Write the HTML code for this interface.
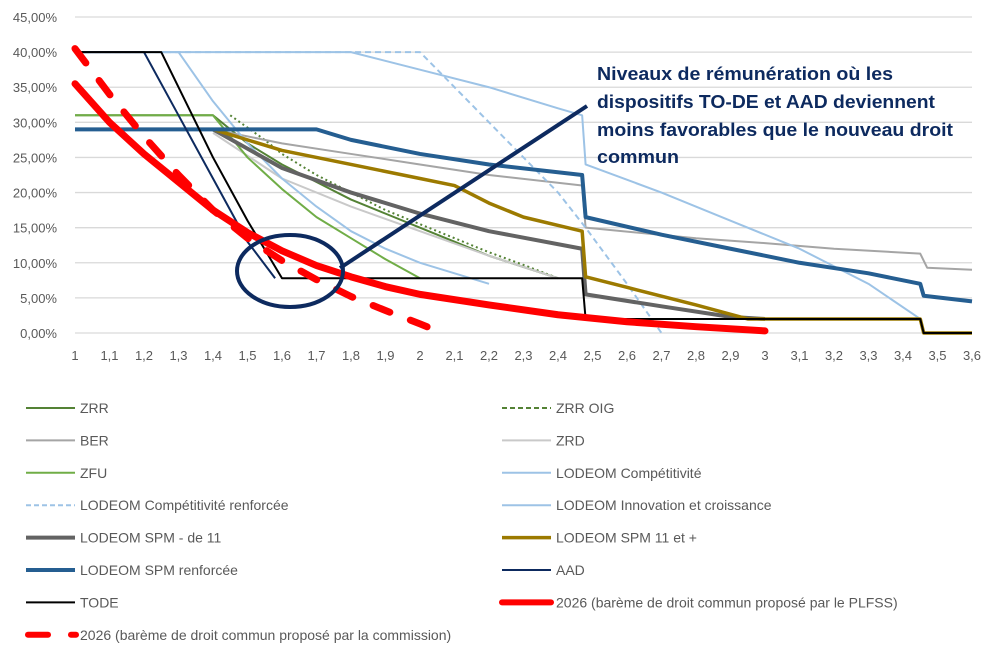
<!DOCTYPE html>
<html><head><meta charset="utf-8"><style>
body{margin:0;background:#fff;}
svg text{font-family:"Liberation Sans",sans-serif;}
</style></head><body>
<svg id="chart" width="995" height="650" xmlns="http://www.w3.org/2000/svg">
<g id="grid"></g>
<g id="yaxis"></g>
<g id="xaxis"></g>
<g id="series"></g>
<g id="legend"></g>
<ellipse cx="290" cy="271" rx="53" ry="36" fill="none" stroke="#0d2a5f" stroke-width="4"/>
<line x1="340" y1="268" x2="587" y2="106" stroke="#0d2a5f" stroke-width="4"/>
<g fill="#0d2a5f" font-weight="bold" font-size="18">
<text x="597" y="80" textLength="296" lengthAdjust="spacingAndGlyphs">Niveaux de rémunération où les</text>
<text x="597" y="108" textLength="338" lengthAdjust="spacingAndGlyphs">dispositifs TO-DE et AAD deviennent</text>
<text x="597" y="136" textLength="356" lengthAdjust="spacingAndGlyphs">moins favorables que le nouveau droit</text>
<text x="597" y="163" textLength="82" lengthAdjust="spacingAndGlyphs">commun</text>
</g>
</svg>
<script>
const yTicks=[0,5,10,15,20,25,30,35,40,45];
const xTicks=[1,1.1,1.2,1.3,1.4,1.5,1.6,1.7,1.8,1.9,2,2.1,2.2,2.3,2.4,2.5,2.6,2.7,2.8,2.9,3,3.1,3.2,3.3,3.4,3.5,3.6];
const sZRR=[[1,31],[1.4,31],[1.5,27],[1.6,24],[1.7,21.5],[1.8,19],[1.9,17],[2,15],[2.1,13],[2.2,11],[2.3,9.4],[2.4,7.8]];
const sZRROIG=[[1.45,31],[1.55,27.5],[1.6,25.5],[1.7,22.5],[1.8,20],[1.9,17.5],[2,15.5],[2.1,13.5],[2.2,11.5],[2.3,9.7],[2.4,7.8]];
const sBER=[[1.4,29],[1.6,27],[1.8,25.5],[2,24],[2.2,22.5],[2.47,21],[2.48,15],[2.8,13.5],[3,12.8],[3.2,12],[3.45,11.3],[3.47,9.3],[3.6,9]];
const sZRD=[[1.4,28.5],[1.6,22],[1.8,18],[2,14.5],[2.2,11],[2.4,7.8]];
const sZFU=[[1,31],[1.4,31],[1.5,25],[1.6,20.5],[1.7,16.5],[1.8,13.5],[1.9,10.5],[2,7.8]];
const sComp=[[1,40],[1.3,40],[1.4,33],[1.5,27],[1.6,22],[1.7,18],[1.8,14.5],[1.9,12],[2,10],[2.1,8.5],[2.2,7]];
const sCompR=[[1,40],[2,40],[2.2,30],[2.4,20],[2.48,15],[2.6,7],[2.7,0]];
const sInno=[[1,40],[1.8,40],[2,37.5],[2.2,35],[2.4,32],[2.47,31],[2.48,24],[2.7,20],[2.9,16],[3.1,12],[3.3,7],[3.45,2],[3.46,0]];
const sSPM11m=[[1.4,29],[1.6,23.5],[1.8,20],[2,17],[2.2,14.5],[2.47,12],[2.48,5.5],[2.7,3.8],[2.9,2.3],[3,2]];
const sSPM11p=[[1.4,29],[1.6,26],[1.8,24],[2,22],[2.1,21],[2.2,18.5],[2.3,16.5],[2.47,14.5],[2.48,8],[2.6,6.5],[2.8,4],[2.95,2],[3.45,2],[3.46,0],[3.6,0]];
const sSPMR=[[1,29],[1.7,29],[1.8,27.5],[2,25.5],[2.2,24],[2.47,22.5],[2.48,16.5],[2.7,14],[2.9,12],[3.1,10],[3.3,8.5],[3.45,7],[3.46,5.3],[3.6,4.5]];
const sAAD=[[1,40],[1.2,40],[1.3,31],[1.4,22],[1.5,13],[1.58,7.8]];
const sTODE=[[1,40],[1.25,40],[1.3,35],[1.4,25],[1.5,16],[1.6,7.8],[2.47,7.8],[2.48,2],[3.45,2],[3.46,0],[3.6,0]];
const sPLFSS=[[1,35.5],[1.1,30],[1.2,25.5],[1.3,21.5],[1.4,17.5],[1.5,14.3],[1.6,11.7],[1.7,9.6],[1.8,8],[1.9,6.6],[2,5.5],[2.2,4],[2.4,2.6],[2.6,1.6],[2.8,0.9],[3,0.3]];
const sComm=[[1,40.5],[1.1,34],[1.2,28],[1.3,22.5],[1.4,17.5],[1.5,13.5],[1.6,10.3],[1.7,7.6],[1.8,5.2],[1.9,3.2],[2,1.3],[2.05,0.3]];
const X=s=>75+(s-1)*345, Y=v=>333-v*316/45;
const NS="http://www.w3.org/2000/svg";
function mk(p,t,a){const e=document.createElementNS(NS,t);for(const k in a)e.setAttribute(k,a[k]);p.appendChild(e);return e;}
const grid=document.getElementById('grid'),ya=document.getElementById('yaxis'),xa=document.getElementById('xaxis');
yTicks.forEach(v=>{const l=mk(grid,'line',{x1:75,x2:972,y1:Y(v),y2:Y(v),stroke:'#d9d9d9','stroke-width':1.3});


const t=mk(ya,'text',{x:57,y:Y(v)+5,'text-anchor':'end','font-size':13,fill:'#595959'});t.textContent=v.toFixed(2).replace('.',',')+'%';

});
xTicks.forEach(v=>{const t=mk(xa,'text',{x:X(v),y:360,'text-anchor':'middle','font-size':13,fill:'#595959'});t.textContent=String(v).replace('.',',');

});
const series=[
['ZRR',sZRR,'#548235',2,''],['ZRR OIG',sZRROIG,'#548235',2,'2 3'],['BER',sBER,'#a5a5a5',2,''],['ZRD',sZRD,'#c9c9c9',2,''],
['ZFU',sZFU,'#70ad47',2,''],['LODEOM Compétitivité',sComp,'#9dc3e6',2,''],['LODEOM Compétitivité renforcée',sCompR,'#9dc3e6',2,'6 4'],
['LODEOM Innovation et croissance',sInno,'#9dc3e6',2,''],['LODEOM SPM - de 11',sSPM11m,'#636363',4,''],['LODEOM SPM 11 et +',sSPM11p,'#9c7a00',3.5,''],
['LODEOM SPM renforcée',sSPMR,'#255e91',4,''],['AAD',sAAD,'#0d2a5f',2,''],['TODE',sTODE,'#000',2,''],
['2026 (barème de droit commun proposé par le PLFSS)',sPLFSS,'#ff0000',7,''],['2026 (barème de droit commun proposé par la commission)',sComm,'#ff0000',7,'18 22']];
const sg=document.getElementById('series'),lg=document.getElementById('legend');
series.forEach((s,i)=>{const p=mk(sg,'polyline',{points:s[1].map(d=>X(d[0])+','+Y(d[1])).join(' '),fill:'none',stroke:s[2],'stroke-width':s[3],'stroke-dasharray':s[4],'stroke-linecap':s[3]>5?'round':'butt','stroke-linejoin':'round'});


const col=i%2,row=Math.floor(i/2);const lx=col?502:26,ly=408+row*32.4;
const g=mk(lg,'g',{});


if(i==14){mk(g,'line',{x1:28,x2:48,y1:ly,y2:ly,stroke:'#f00','stroke-width':6,'stroke-linecap':'round'});mk(g,'line',{x1:71,x2:76,y1:ly,y2:ly,stroke:'#f00','stroke-width':6,'stroke-linecap':'round'});}
else mk(g,'line',{x1:lx,x2:lx+49,y1:ly,y2:ly,stroke:s[2],'stroke-width':Math.min(s[3],6),'stroke-dasharray':s[4]?(s[3]>5?'':'5 3'):'','stroke-linecap':s[3]>5?'round':'butt'});
const t=mk(g,'text',{x:lx+54,y:ly+5,'font-size':14,fill:'#595959'});t.textContent=s[0];});
</script>
</body></html>
